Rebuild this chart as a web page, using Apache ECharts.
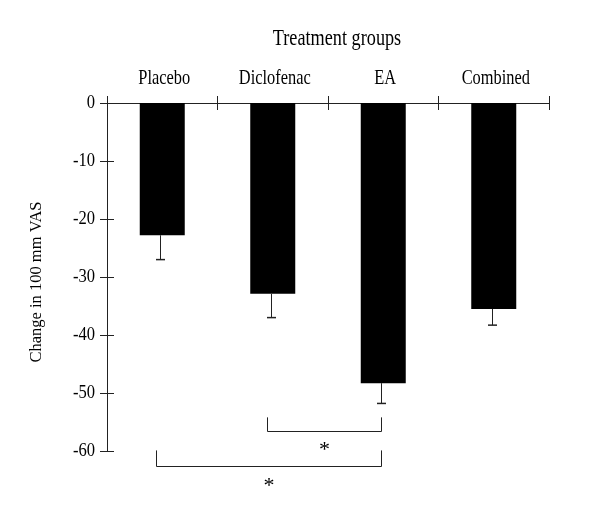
<!DOCTYPE html>
<html>
<head>
<meta charset="utf-8">
<script src="https://cdn.jsdelivr.net/npm/echarts@6/dist/echarts.min.js"></script>
<style>
  html, body { margin: 0; padding: 0; background: #fff; }
  #chart { width: 600px; height: 528px; }
</style>
</head>
<body>
<div id="chart"></div>
<script>
// ---- data ----
var categories = ['Placebo', 'Diclofenac', 'EA', 'Combined'];
var meanChange = [-22.8, -32.9, -48.3, -35.5];
var errorSize = [4.2, 4.1, 3.5, 2.8];
var yTicks = { min: -60, max: 0, interval: 10 };
var yTickValues = [0, -10, -20, -30, -40, -50, -60];
var yTickLabels = ['0', '-10', '-20', '-30', '-40', '-50', '-60'];
// significance brackets: from category index, to category index, stem-top value, bar value, star value
var bracketFrom = [1, 0];
var bracketTo = [2, 2];
var bracketStemTop = [-54.2, -59.9];
var bracketLevel = [-56.6, -62.5];
var starLevel = [-59.9, -66.1];
var starText = ['*', '*'];
var titleText = 'Treatment groups';
var yName = 'Change in 100 mm VAS';

var FONT = 'Liberation Serif';
var AX = '#222';

var errData = categories.map(function (c, i) { return [i, meanChange[i], meanChange[i] - errorSize[i]]; });
var brData = bracketFrom.map(function (f, i) { return [f, bracketTo[i], bracketStemTop[i], bracketLevel[i], starLevel[i]]; });
var catLabelData = categories.map(function (c, i) { return [i, 0]; });
var yLabelData = yTickValues.map(function (v) { return [0, v]; });

var chart = echarts.init(document.getElementById('chart'), null, { renderer: 'canvas' });
var option = {
  animation: false,
  backgroundColor: '#fff',
  graphic: [{
    type: 'text', x: 337, y: 39, scaleX: 0.81,
    style: { text: titleText, fontFamily: FONT, fontSize: 22.5, fill: '#000', align: 'center', verticalAlign: 'middle' }
  }],
  grid: { left: 107, right: 51, top: 103, bottom: 77 },
  xAxis: [{
    type: 'category', position: 'top', data: categories,
    axisLine: { show: true, lineStyle: { color: AX, width: 1 } },
    axisTick: { show: true, length: 7, lineStyle: { color: AX } },
    axisLabel: { show: false },
    splitLine: { show: false }
  }, {
    type: 'category', position: 'top', data: categories,
    axisLine: { show: false },
    axisTick: { show: true, inside: true, length: 7, lineStyle: { color: AX } },
    axisLabel: { show: false },
    splitLine: { show: false }
  }],
  yAxis: [{
    type: 'value', min: yTicks.min, max: yTicks.max, interval: yTicks.interval,
    name: yName, nameLocation: 'middle', nameGap: 62, nameRotate: 90,
    nameTextStyle: { fontFamily: FONT, fontSize: 16.5, color: '#000', padding: [0, 10, 0, 0] },
    axisLine: { show: true, lineStyle: { color: AX, width: 1 } },
    axisTick: { show: true, length: 7, lineStyle: { color: AX } },
    axisLabel: { show: false },
    splitLine: { show: false }
  }, {
    type: 'value', min: yTicks.min, max: yTicks.max, interval: yTicks.interval, position: 'left',
    axisLine: { show: false },
    axisTick: { show: true, inside: true, length: 7, lineStyle: { color: AX } },
    axisLabel: { show: false },
    splitLine: { show: false }
  }],
  series: [{
    type: 'bar', data: meanChange, barWidth: 45,
    itemStyle: { color: '#000' }
  }, {
    type: 'custom', data: errData, z: 5,
    renderItem: function (params, api) {
      var top = api.coord([api.value(0), api.value(1)]);
      var bot = api.coord([api.value(0), api.value(2)]);
      var x = Math.round(top[0]) - 1.5;
      return {
        type: 'group', children: [
          { type: 'line', shape: { x1: x, y1: top[1], x2: x, y2: bot[1] }, style: { stroke: AX, lineWidth: 1 } },
          { type: 'line', shape: { x1: x - 4.5, y1: bot[1], x2: x + 4.5, y2: bot[1] }, style: { stroke: AX, lineWidth: 1.5 } }
        ]
      };
    }
  }, {
    type: 'custom', data: brData, z: 5, clip: false,
    renderItem: function (params, api) {
      var a = api.coord([api.value(0), api.value(2)]);
      var b = api.coord([api.value(1), api.value(2)]);
      var lv = api.coord([api.value(0), api.value(3)]);
      var st = api.coord([api.value(0), api.value(4)]);
      var x1 = Math.round(a[0] - 6) + 0.5, x2 = Math.round(b[0] - 2) + 0.5;
      var yl = Math.round(lv[1]) + 0.5;
      return {
        type: 'group', children: [
          { type: 'polyline', shape: { points: [[x1, a[1]], [x1, yl], [x2, yl], [x2, b[1]]] }, style: { stroke: AX, lineWidth: 1, fill: null } },
          { type: 'text', x: (x1 + x2) / 2, y: st[1], style: { text: starText[params.dataIndex], fontFamily: FONT, fontSize: 22, fill: '#000', align: 'center', verticalAlign: 'middle' } }
        ]
      };
    }
  }, {
    // category labels above the top axis
    type: 'custom', data: catLabelData, clip: false, silent: true,
    renderItem: function (params, api) {
      var p = api.coord([api.value(0), api.value(1)]);
      return { type: 'text', x: p[0] + 2, y: p[1] - 24.5, scaleX: 0.78,
        style: { text: categories[params.dataIndex], fontFamily: FONT, fontSize: 21, fill: '#000', align: 'center', verticalAlign: 'middle' } };
    }
  }, {
    // y tick labels
    type: 'custom', data: yLabelData, clip: false, silent: true,
    renderItem: function (params, api) {
      var p = api.coord([api.value(0), api.value(1)]);
      return { type: 'text', x: params.coordSys.x - 12, y: p[1], scaleX: 0.85,
        style: { text: yTickLabels[params.dataIndex], fontFamily: FONT, fontSize: 19.5, fill: '#000', align: 'right', verticalAlign: 'middle' } };
    }
  }]
};
chart.setOption(option);
</script>
</body>
</html>
